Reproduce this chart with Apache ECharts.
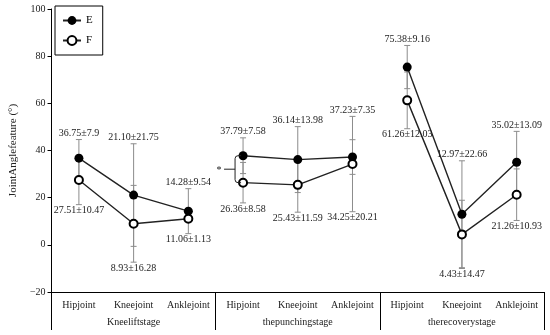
<!DOCTYPE html>
<html><head><meta charset="utf-8">
<script src="https://cdn.jsdelivr.net/npm/echarts@6/dist/echarts.min.js"></script>
<style>html,body{margin:0;padding:0;background:#fff}#c{width:550px;height:335px}</style>
</head><body><div id="c"></div>
<script>
const joints = ['Hipjoint','Kneejoint','Anklejoint','Hipjoint','Kneejoint','Anklejoint','Hipjoint','Kneejoint','Anklejoint'];
const stages = ['Kneeliftstage','thepunchingstage','therecoverystage'];
const meanE = [36.75,21.10,14.28,37.79,36.14,37.23,75.38,12.97,35.02];
const sdE   = [7.9,21.75,9.54,7.58,13.98,7.35,9.16,22.66,13.09];
const meanF = [27.51,8.93,11.06,26.36,25.43,34.25,61.26,4.43,21.26];
const sdF   = [10.47,16.28,1.13,8.58,11.59,20.21,12.03,14.47,10.93];
const labelE = ['36.75±7.9','21.10±21.75','14.28±9.54','37.79±7.58','36.14±13.98','37.23±7.35','75.38±9.16','12.97±22.66','35.02±13.09'];
const labelF = ['27.51±10.47','8.93±16.28','11.06±1.13','26.36±8.58','25.43±11.59','34.25±20.21','61.26±12.03','4.43±14.47','21.26±10.93'];
const yMin = -20, yMax = 100, yStep = 20;
const sigPair = [3]; // category index with significance bracket

const FONT = 'Liberation Serif';
const chart = echarts.init(document.getElementById('c'));

function lineSeries(name, vals, group, filled) {
  return {
    type: 'line', name: name,
    data: vals.map((v, i) => Math.floor(i / 3) === group ? v : '-'),
    symbol: 'circle', symbolSize: filled ? 9 : 8,
    itemStyle: filled ? {color: '#000', borderColor: '#000', borderWidth: 0}
                      : {color: '#fff', borderColor: '#000', borderWidth: 2},
    lineStyle: {color: '#222', width: 1.4},
    z: 5, animation: false
  };
}

function errRender(params, api) {
  const x = api.value(0), lo = api.value(1), hi = api.value(2);
  const a = api.coord([x, hi]), b = api.coord([x, lo]);
  const w = 3, st = {stroke: '#8c8c8c', lineWidth: 1};
  return {type: 'group', children: [
    {type: 'line', shape: {x1: a[0], y1: a[1], x2: b[0], y2: b[1]}, style: st},
    {type: 'line', shape: {x1: a[0]-w, y1: a[1], x2: a[0]+w, y2: a[1]}, style: st},
    {type: 'line', shape: {x1: b[0]-w, y1: b[1], x2: b[0]+w, y2: b[1]}, style: st}
  ]};
}

const errE = meanE.map((m, i) => [i, m - sdE[i], m + sdE[i]]);
const errF = meanF.map((m, i) => [i, m - sdF[i], m + sdF[i]]);
const labData = meanE.map((m, i) => [i,
  Math.max(m + sdE[i], meanF[i] + sdF[i]),
  Math.min(m - sdE[i], meanF[i] - sdF[i])]);

const series = [];
for (let g = 0; g < 3; g++) series.push(lineSeries('E', meanE, g, true));
for (let g = 0; g < 3; g++) series.push(lineSeries('F', meanF, g, false));
series.push({type: 'custom', renderItem: errRender, data: errE, encode: {x: 0, y: [1, 2]}, z: 2, silent: true, animation: false});
series.push({type: 'custom', renderItem: errRender, data: errF, encode: {x: 0, y: [1, 2]}, z: 2, silent: true, animation: false});
series.push({
  type: 'custom', data: labData, encode: {x: 0, y: [1, 2]}, z: 6, silent: true, animation: false,
  renderItem: function (params, api) {
    const i = api.value(0);
    const a = api.coord([i, api.value(1)]), b = api.coord([i, api.value(2)]);
    const ts = {font: '10px "' + FONT + '"', fill: '#222', align: 'center'};
    return {type: 'group', children: [
      {type: 'text', x: a[0], y: a[1] - 1, style: Object.assign({text: labelE[i], verticalAlign: 'bottom'}, ts)},
      {type: 'text', x: b[0], y: b[1] + 1, style: Object.assign({text: labelF[i], verticalAlign: 'top'}, ts)}
    ]};
  }
});
series.push({
  type: 'custom', data: sigPair.map(i => [i, meanE[i], meanF[i]]), encode: {x: 0, y: [1, 2]}, z: 6, silent: true, animation: false,
  renderItem: function (params, api) {
    const i = api.value(0);
    const a = api.coord([i, api.value(1)]), b = api.coord([i, api.value(2)]);
    const x0 = a[0] - 2, xb = a[0] - 8, ym = (a[1] + b[1]) / 2, r = 3;
    const st = {stroke: '#222', lineWidth: 1, fill: null};
    return {type: 'group', children: [
      {type: 'path', shape: {pathData:
        'M' + x0 + ' ' + a[1] + ' L' + (xb + r) + ' ' + a[1] + ' Q' + xb + ' ' + a[1] + ' ' + xb + ' ' + (a[1] + r) +
        ' L' + xb + ' ' + (b[1] - r) + ' Q' + xb + ' ' + b[1] + ' ' + (xb + r) + ' ' + b[1] + ' L' + x0 + ' ' + b[1]}, style: st},
      {type: 'line', shape: {x1: xb, y1: ym, x2: xb - 11, y2: ym}, style: st},
      {type: 'text', x: xb - 16, y: ym + 1, style: {text: '*', font: '10px "' + FONT + '"', fill: '#222', align: 'center', verticalAlign: 'middle'}}
    ]};
  }
});

chart.setOption({
  animation: false,
  backgroundColor: '#fff',
  grid: {left: 41, right: 6, top: 9, bottom: 43},
  legend: {
    data: ['E', 'F'], orient: 'vertical', left: 55, top: 6,
    borderColor: '#000', borderWidth: 1, borderRadius: 0, padding: [9, 10, 9, 7],
    itemWidth: 18, itemHeight: 11, itemGap: 9,
    textStyle: {fontFamily: FONT, fontSize: 11, color: '#000'}
  },
  xAxis: [
    {type: 'category', data: joints, position: 'bottom', boundaryGap: true,
     axisLine: {show: true, onZero: false, lineStyle: {color: '#000', width: 1}}, axisTick: {show: false},
     axisLabel: {interval: 0, margin: 8, fontFamily: FONT, fontSize: 10, color: '#222'}},
    {type: 'category', data: stages, position: 'bottom', boundaryGap: true,
     axisLine: {show: false, onZero: false}, axisTick: {show: true, length: 38, interval: 0, lineStyle: {color: '#000'}},
     axisLabel: {interval: 0, margin: 25, fontFamily: FONT, fontSize: 10, color: '#222'}}
  ],
  yAxis: {
    type: 'value', min: yMin, max: yMax, interval: yStep,
    name: 'JointAnglefeature (°)', nameLocation: 'middle', nameGap: 27,
    nameTextStyle: {fontFamily: FONT, fontSize: 11, color: '#222'},
    axisLine: {show: true, lineStyle: {color: '#000'}},
    axisTick: {show: true, length: 4, lineStyle: {color: '#000'}},
    splitLine: {show: false},
    axisLabel: {margin: 6, fontFamily: FONT, fontSize: 10, color: '#222',
      formatter: v => (v < 0 ? '\u2212' + Math.abs(v) : String(v))}
  },
  series: series
});
</script></body></html>
